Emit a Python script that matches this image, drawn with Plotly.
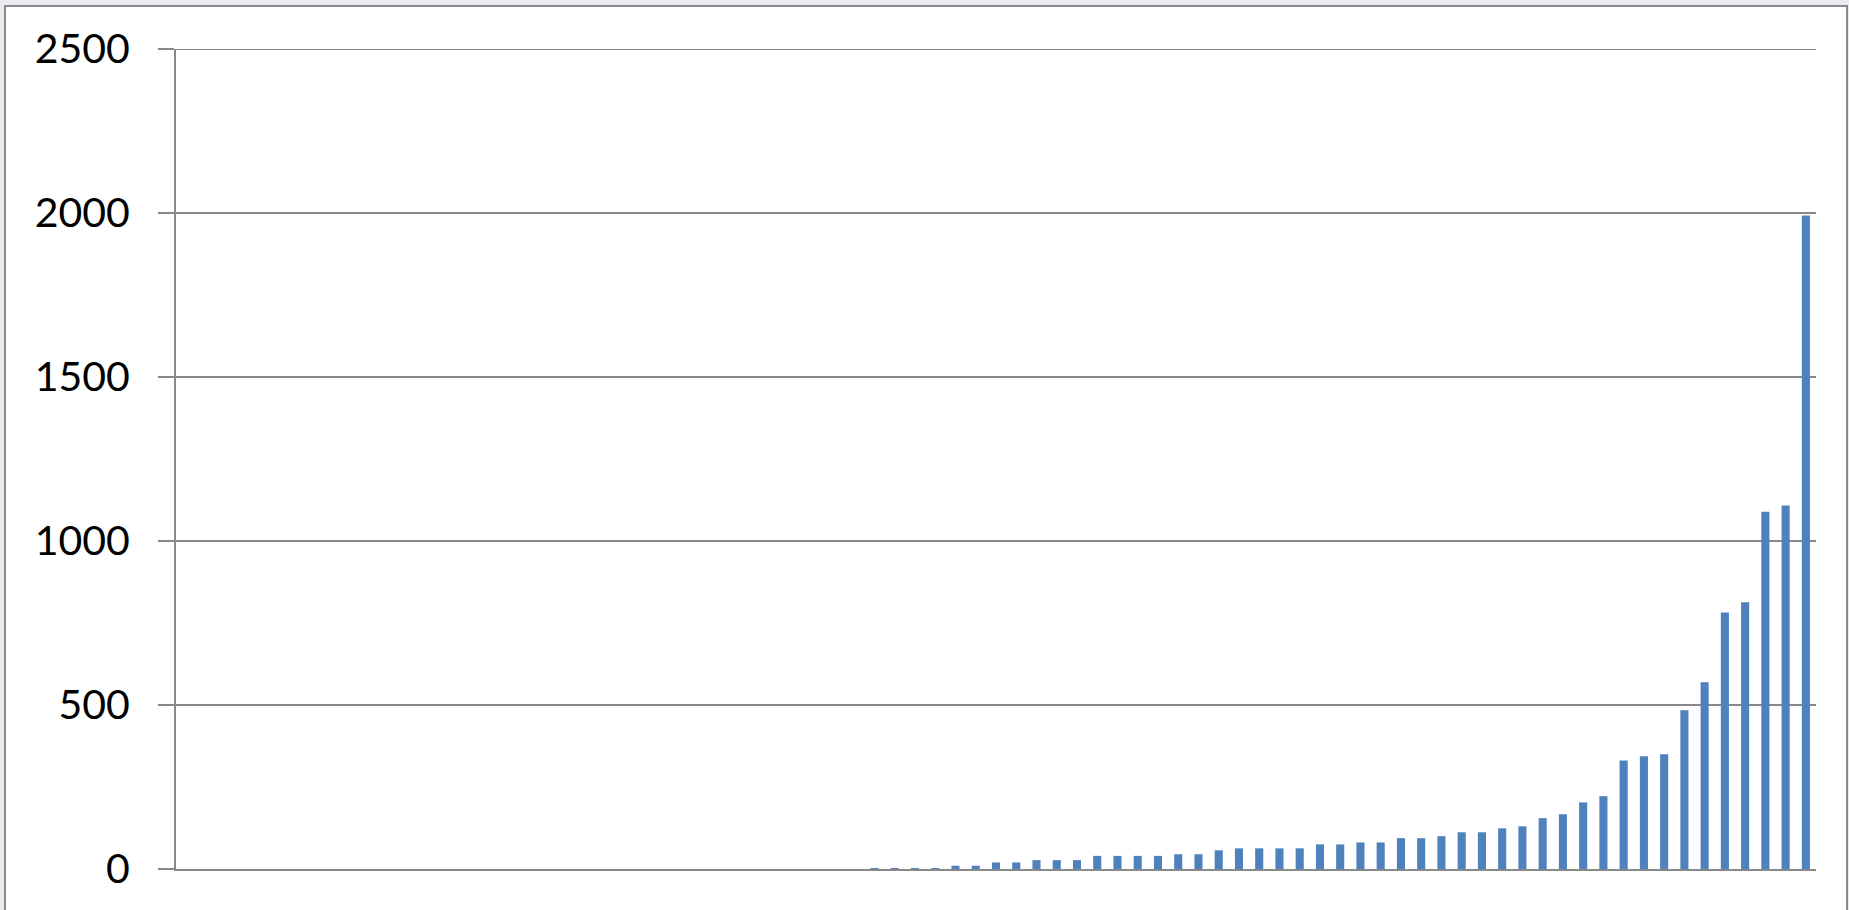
import plotly.graph_objects as go

# 81 categories, no category labels shown on the axis
categories = list(range(1, 82))

values = [
    0, 0, 0, 0, 0, 0, 0, 0, 0, 0,
    0, 0, 0, 0, 0, 0, 0, 0, 0, 0,
    0, 0, 0, 0, 0, 0, 0, 0, 0, 0,
    0, 0, 0, 0,
    3, 3, 3, 3, 10, 10, 20, 20, 27, 27,
    27, 40, 40, 40, 40, 45, 45, 57, 63, 63,
    63, 63, 75, 75, 81, 81, 94, 94, 100, 112,
    112, 124, 130, 155, 167, 203, 222, 331, 344, 350,
    484, 569, 782, 813, 1089, 1108, 1992,
]

y_ticks = [0, 500, 1000, 1500, 2000, 2500]

W, H = 1849, 910
L, R, T, B = 176, 33, 49, 41
pw, ph = W - L - R, H - T - B

def px_x(p):
    return (p - L) / pw

def px_y(p):
    return (H - B - p) / ph

GRID = "#898989"
BAR = "#4F81BD"

fig = go.Figure()
fig.add_trace(go.Bar(
    x=categories, y=values,
    marker=dict(color=BAR, line=dict(width=0)),
    hoverinfo="x+y",
))

# chart-area frame
fig.add_shape(type="rect", xref="paper", yref="paper",
              x0=px_x(5), x1=px_x(1847), y0=px_y(930), y1=px_y(6),
              fillcolor="white", line=dict(color=GRID, width=2), layer="below")
# top gridline (plotly drops the gridline sitting on the range edge)
fig.add_shape(type="line", xref="paper", yref="y",
              x0=0, x1=1, y0=y_ticks[-1], y1=y_ticks[-1],
              line=dict(color=GRID, width=2), layer="below")

fig.update_layout(
    width=W, height=H,
    margin=dict(l=L, r=R, t=T, b=B, autoexpand=False),
    paper_bgcolor="#e9ebee",
    plot_bgcolor="rgba(0,0,0,0)",
    bargap=0.6,
    showlegend=False,
    font=dict(family="Lato, 'Open Sans', sans-serif", color="black"),
)
fig.update_xaxes(
    type="category",
    range=[-0.5, len(categories) - 0.5],
    showticklabels=False, ticks="",
    showgrid=False, zeroline=False,
    showline=True, linecolor=GRID, linewidth=2,
    layer="below traces",
)
fig.update_yaxes(
    range=[0, 2500],
    tickvals=y_ticks, ticktext=[str(v) for v in y_ticks],
    showgrid=True, gridcolor=GRID, gridwidth=2,
    zeroline=False,
    showline=True, linecolor=GRID, linewidth=2,
    ticks="outside", ticklen=16, tickcolor=GRID, tickwidth=2,
    ticklabelstandoff=20,
    tickfont=dict(size=41, family="Lato", color="black"),
    layer="below traces",
)

fig.write_html("out.html", config={"displayModeBar": False},
               post_script="document.body.style.margin='0';")
